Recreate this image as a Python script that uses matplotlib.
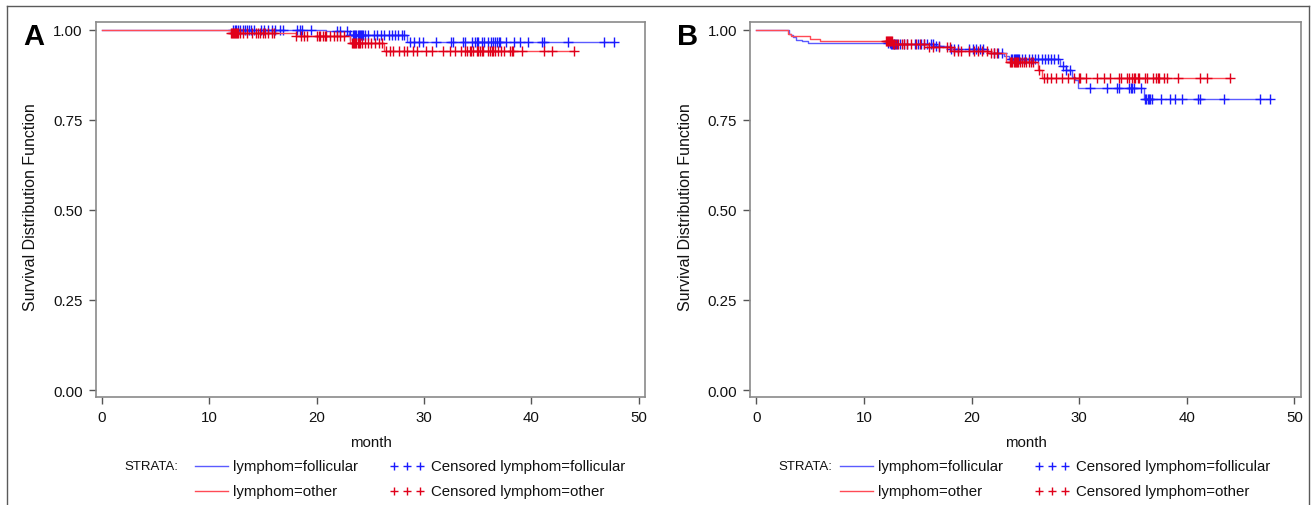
import numpy as np
import matplotlib
matplotlib.use("Agg")
import matplotlib.pyplot as plt
from matplotlib.lines import Line2D

# ---------------- data ----------------
# Panel A
A_fol_event_t = [20.9, 23.0, 28.4]
A_fol_event_s = [0.996, 0.987, 0.966]
A_fol_cens_t = [12.2, 12.4, 12.5, 12.7, 12.9, 13.1, 13.3, 13.5, 13.7, 13.9, 14.2, 14.8,
                15.1, 15.5, 15.8, 16.1, 16.6, 16.9, 18.2, 18.4, 18.6, 19.5, 21.9, 22.2,
                22.8, 23.1, 23.4, 23.5, 23.6, 23.7, 23.8, 23.9, 24.0, 24.1, 24.2, 24.3,
                24.5, 24.8, 25.3, 25.6, 26.0, 26.3, 26.7, 27.0, 27.3, 27.6, 27.9, 28.1,
                28.7, 29.1, 29.5, 29.9, 31.1, 32.5, 32.7, 33.6, 33.8, 34.5, 34.7, 34.9,
                35.0, 35.4, 35.6, 36.0, 36.2, 36.4, 36.6, 36.8, 37.0, 37.1, 37.6, 38.4,
                38.9, 39.7, 41.0, 41.2, 43.4, 46.8, 47.7]
A_oth_event_t = [12.0, 18.1, 23.1, 26.3]
A_oth_event_s = [0.992, 0.984, 0.963, 0.941]
A_oth_cens_t = [12.0, 12.1, 12.2, 12.3, 12.4, 12.5, 12.6, 12.7, 12.9, 13.1, 13.5, 14.0,
                14.3, 14.5, 14.7, 15.0, 15.2, 15.5, 15.8, 16.0, 18.1, 18.5, 18.8, 19.1,
                20.0, 20.2, 20.3, 20.6, 20.8, 20.9, 21.2, 21.6, 21.9, 22.2, 22.5, 23.3,
                23.4, 23.5, 23.6, 23.7, 23.8, 23.9, 24.0, 24.2, 24.5, 24.8, 25.1, 25.4,
                25.8, 26.1, 26.5, 26.8, 27.1, 27.7, 28.1, 28.4, 29.0, 29.3, 30.2, 30.7,
                31.8, 32.4, 32.9, 33.4, 33.8, 34.0, 34.3, 34.4, 34.6, 34.9, 35.0, 35.2,
                35.4, 35.5, 36.0, 36.1, 36.3, 36.4, 36.6, 36.9, 37.2, 37.4, 38.0, 38.2,
                38.3, 39.1, 41.2, 41.9, 44.0]

# Panel B
B_fol_event_t = [3.0, 3.2, 3.4, 3.7, 4.2, 4.8, 12.5, 16.5, 18.0, 21.5, 23.0, 23.5,
                 28.2, 28.8, 29.3, 29.6, 29.9, 36.0]
B_fol_event_s = [0.990, 0.985, 0.979, 0.973, 0.968, 0.963, 0.960, 0.954, 0.946, 0.935,
                 0.928, 0.920, 0.900, 0.890, 0.870, 0.860, 0.839, 0.809]
B_fol_cens_t = [12.2, 12.4, 12.5, 12.6, 12.8, 12.9, 13.1, 13.3, 13.7, 14.0, 14.7, 15.0,
                15.3, 15.6, 15.9, 16.2, 16.4, 16.7, 17.0, 18.1, 18.4, 18.7, 19.8, 20.1,
                20.4, 20.8, 21.1, 22.1, 22.5, 22.8, 23.7, 23.8, 23.9, 24.0, 24.1, 24.2,
                24.3, 24.4, 24.7, 25.0, 25.3, 25.6, 25.9, 26.2, 26.5, 26.8, 27.1, 27.4,
                27.7, 28.0, 28.5, 28.8, 29.1, 31.0, 32.6, 33.5, 33.7, 34.6, 34.8, 34.9,
                35.1, 35.7, 36.1, 36.2, 36.4, 36.5, 36.6, 36.8, 37.6, 38.4, 38.9, 39.6,
                41.0, 41.2, 43.5, 46.8, 47.7]
B_oth_event_t = [2.9, 3.2, 5.0, 5.9, 12.7, 15.9, 18.2, 21.5, 23.2, 26.2, 26.5]
B_oth_event_s = [0.990, 0.983, 0.976, 0.968, 0.961, 0.952, 0.942, 0.935, 0.912, 0.890,
                 0.867]
B_oth_cens_t = [12.0, 12.1, 12.2, 12.3, 12.4, 12.5, 12.6, 12.7, 12.8, 13.0, 13.2, 13.5,
                13.7, 14.0, 14.4, 14.8, 15.2, 15.6, 16.0, 16.4, 17.0, 17.7, 18.0, 18.4,
                18.7, 19.0, 19.8, 20.2, 20.6, 21.0, 21.4, 21.8, 22.1, 22.4, 23.6, 23.7,
                23.8, 23.9, 24.0, 24.1, 24.2, 24.3, 24.5, 24.7, 24.9, 25.1, 25.3, 25.5,
                25.7, 26.3, 26.7, 27.0, 27.4, 27.8, 28.4, 29.0, 29.5, 30.0, 30.1, 30.6,
                31.7, 32.3, 32.9, 33.7, 33.9, 34.4, 34.6, 34.9, 35.1, 35.2, 35.5, 35.6,
                36.1, 36.3, 36.9, 37.1, 37.3, 37.4, 37.9, 38.2, 39.2, 41.2, 41.9, 44.0]

x_ticks = [0, 10, 20, 30, 40, 50]
y_ticks = [0.00, 0.25, 0.50, 0.75, 1.00]
y_tick_labels = ["0.00", "0.25", "0.50", "0.75", "1.00"]
panel_letters = ["A", "B"]
legend_line_labels = ["lymphom=follicular", "lymphom=other"]
legend_cens_labels = ["Censored lymphom=follicular", "Censored lymphom=other"]

# ---------------- style ----------------
plt.rcParams["font.family"] = ["Liberation Sans", "DejaVu Sans"]

W, H = 1315, 506
BLUE_LINE = "#5b5bff"
BLUE_MARK = "#1a1aff"
RED_LINE = "#ff4a55"
RED_MARK = "#e0001a"
FRAME = "#8a8a8a"
TXT = "#111111"
FS = 10.8


def fx(x):
    return x / W


def fy(y):
    return 1 - y / H


def km(ev_t, ev_s, cens_t):
    end = max(cens_t)
    t = [0.0] + list(ev_t) + [end]
    s = [1.0] + list(ev_s) + [ev_s[-1]]
    return np.array(t), np.array(s)


def surv_at(ev_t, ev_s, t):
    ev_t = np.asarray(ev_t)
    ev_s = np.asarray(ev_s)
    idx = np.searchsorted(ev_t, np.asarray(t), side="right") - 1
    return np.where(idx >= 0, ev_s[np.clip(idx, 0, None)], 1.0)


fig = plt.figure(figsize=(W / 100, H / 100), dpi=100)

panels = [
    (96, 645, (A_fol_event_t, A_fol_event_s, A_fol_cens_t),
     (A_oth_event_t, A_oth_event_s, A_oth_cens_t)),
    (750.4, 1300.6, (B_fol_event_t, B_fol_event_s, B_fol_cens_t),
     (B_oth_event_t, B_oth_event_s, B_oth_cens_t)),
]
top, bottom = 23, 398

for i, (l, r, fol, oth) in enumerate(panels):
    ax = fig.add_axes([fx(l), fy(bottom), (r - l) / W, (bottom - top) / H])
    for (et, es, ct), lc, mc, z in [(fol, BLUE_LINE, BLUE_MARK, 2), (oth, RED_LINE, RED_MARK, 3)]:
        t, s = km(et, es, ct)
        ax.step(t, s, where="post", color=lc, lw=1.0, zorder=z)
        ax.plot(ct, surv_at(et, es, ct), linestyle="none", marker="+", ms=6.5,
                mew=1.0, color=mc, zorder=z + 0.5)
    ax.set_xlim(-0.56, 50.58)
    ax.set_ylim(-0.0194, 1.022)
    ax.set_xticks(x_ticks)
    ax.set_yticks(y_ticks)
    ax.set_yticklabels(y_tick_labels)
    for sp in ax.spines.values():
        sp.set_color(FRAME)
        sp.set_linewidth(1.2)
    ax.tick_params(direction="out", length=5, width=1, color="#555555",
                   labelsize=FS, labelcolor=TXT, pad=4.5)
    cx = (l + r) / 2
    fig.text(fx(cx), fy(443), "month", ha="center", va="center", fontsize=FS, color=TXT)
    fig.text(fx(l - 65), fy(207), "Survival Distribution Function",
             rotation=90, ha="center", va="center", fontsize=11.5, color=TXT)
    fig.text(fx(l - 73), fy(45), panel_letters[i], fontsize=21, fontweight="bold",
             ha="left", va="baseline", color="black")

    # legend
    sx = l + 28
    fig.text(fx(sx), fy(467), "STRATA:", fontsize=FS - 1.3, ha="left", va="center", color=TXT)
    lx0 = l + 99 if i == 0 else l + 90
    for j, (lab, lc) in enumerate(zip(legend_line_labels, [BLUE_LINE, RED_LINE])):
        yy = 467 + 25 * j
        fig.add_artist(Line2D([fx(lx0), fx(lx0 + 33)], [fy(yy), fy(yy)],
                              transform=fig.transFigure, color=lc, lw=1.0))
        fig.text(fx(lx0 + 38), fy(yy), lab, fontsize=FS, ha="left", va="center", color=TXT)
    px0 = lx0 + 199
    for j, (lab, mc) in enumerate(zip(legend_cens_labels, [BLUE_MARK, RED_MARK])):
        yy = 467 + 25 * j
        for k in range(3):
            fig.add_artist(Line2D([fx(px0 + 13 * k)], [fy(yy)], transform=fig.transFigure,
                                  linestyle="none", marker="+", ms=6, mew=1.0, color=mc))
        fig.text(fx(px0 + 37), fy(yy), lab, fontsize=FS, ha="left", va="center", color=TXT)

# outer figure border (top, left, right)
border = "#5a5a5a"
fig.add_artist(Line2D([fx(7), fx(1309)], [fy(7), fy(7)], transform=fig.transFigure,
                      color=border, lw=1.0))
fig.add_artist(Line2D([fx(7), fx(7)], [fy(7), fy(506)], transform=fig.transFigure,
                      color=border, lw=1.0))
fig.add_artist(Line2D([fx(1309), fx(1309)], [fy(7), fy(506)], transform=fig.transFigure,
                      color=border, lw=1.0))

fig.savefig("out.png", dpi=100)
